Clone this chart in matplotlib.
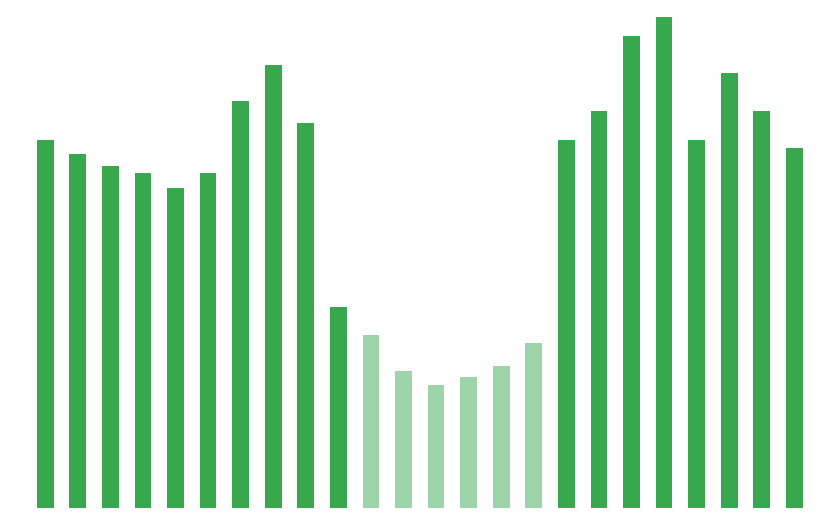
import matplotlib
matplotlib.use("Agg")
import matplotlib.pyplot as plt

values = [368, 354, 342, 335, 320, 335, 407, 443, 385, 201, 173, 137,
          123, 131, 142, 165, 368, 397, 472, 491, 368, 435, 397, 360]
highlight = [False]*10 + [True]*6 + [False]*8

dark = "#38a84f"
light = "#9dd4a9"
colors = [light if h else dark for h in highlight]

fig = plt.figure(figsize=(8.4, 5.25), dpi=100)
ax = fig.add_axes([0, 0, 1, 1])
x = list(range(len(values)))
ax.bar(x, values, width=0.513, color=colors, linewidth=0)
ax.set_xlim(-1.39, 24.40)
ax.set_ylim(-17, 508)
ax.axis("off")
fig.savefig("out.png", dpi=100)
